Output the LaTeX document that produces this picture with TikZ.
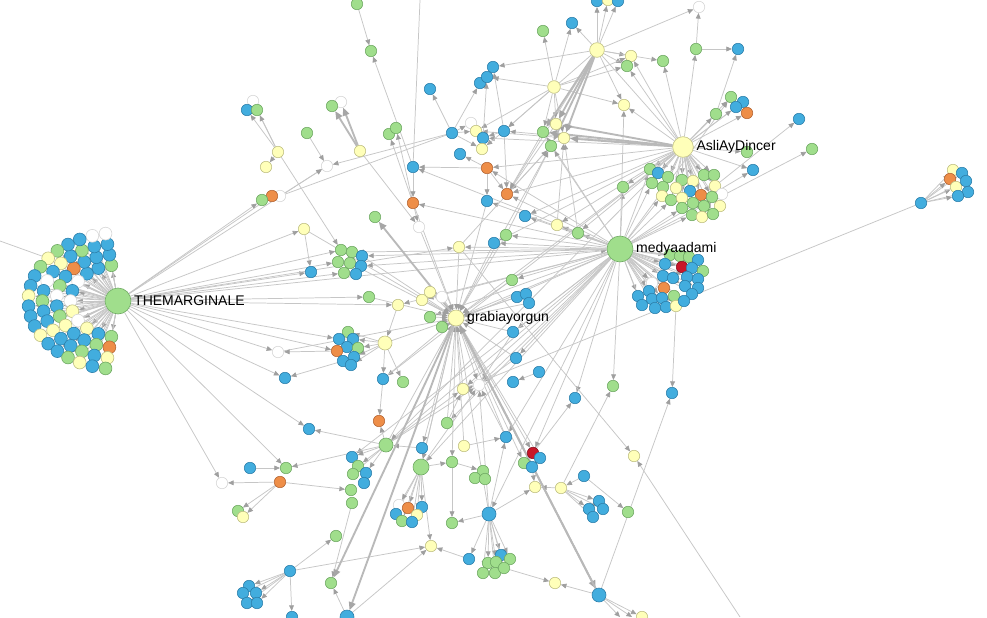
\documentclass[tikz,border=0pt]{standalone}
\usepackage{fontspec}
\setmainfont{Liberation Sans}
\usetikzlibrary{arrows.meta, positioning, backgrounds}
% node fills (c) and borders (d)
\definecolor{cb}{RGB}{66,173,222}  \definecolor{db}{RGB}{45,128,172}
\definecolor{cg}{RGB}{160,222,140} \definecolor{dg}{RGB}{112,170,100}
\definecolor{cy}{RGB}{255,255,185} \definecolor{dy}{RGB}{192,192,132}
\definecolor{co}{RGB}{238,142,72}  \definecolor{do}{RGB}{182,102,52}
\definecolor{cr}{RGB}{200,22,40}   \definecolor{dr}{RGB}{140,15,30}
\definecolor{cw}{RGB}{255,255,255} \definecolor{dw}{RGB}{215,215,215}

\begin{document}
\begin{tikzpicture}[x=0.75pt, y=-0.75pt,
  nd/.style={circle, inner sep=0pt, minimum size=8.6pt, line width=0.45pt, fill=c#1, draw=d#1},
  hub/.style={nd=#1, minimum size=19.5pt},
  mid/.style={nd=#1, minimum size=10.5pt},
  arr/.style={draw=gray!45, line width=0.55pt, -{Triangle[length=4.2pt, width=3.6pt, color=gray!75]}},
  arrt/.style={draw=gray!55, line width=1.4pt, -{Triangle[length=6pt, width=5pt, color=gray!70]}},
  ln/.style={draw=gray!45, line width=0.55pt},
  lbl/.style={font=\fontsize{10.5}{12}\selectfont, inner sep=1pt}
]
  \useasboundingbox (0,0) rectangle (987,617);

  % --- THEMARGINALE ring ---
  \foreach \cols [count=\ring from 0] in {{g,b,b,w,b,w,y,w,y,b,g},{b,b,b,o,b,g,w,b,g,y,b,b,g,o},{b,b,g,b,y,b,w,b,g,b,b,y,b,b,g,b,y},{w,w,b,b,g,y,g,b,b,y,b,b,b,y,b,b,g,y,b,g}}
    \foreach \cl [count=\idx] in \cols {
      \pgfmathsetmacro\ang{98+(\idx-1)*164/(10+3*\ring)}
      \pgfmathsetmacro\rad{44+13*\ring}
      \node[nd=\cl, minimum size=9.6pt] (tm\ring-\idx) at ({118+1.08*\rad*cos(\ang)}, {301-0.82*\rad*sin(\ang)}) {};
    }

  % --- medyaadami cluster ---
  \foreach \nm/\x/\y/\cl in {m1/670/255/g, m2/680/256/g, m3/689/257/g, m4/698/260/b, m5/665/264/b,
      m6/682/267/r, m7/692/268/b, m8/703/271/g, m9/663/276/b, m10/673/278/b, m11/687/277/b,
      m12/698/279/b, m27/652/283/w, m13/664/288/o, m14/685/286/b, m15/698/288/b, m16/649/291/b,
      m17/638/296/b, m18/652/299/b, m19/662/298/b, m20/674/296/g, m21/692/294/b, m22/642/305/b,
      m23/655/308/b, m24/666/307/b, m25/676/306/y, m26/684/301/b}
    \node[nd=\cl] (\nm) at (\x,\y) {};

  % --- AsliAyDincer cluster ---
  \foreach \nm/\x/\y/\cl in {a1/650/169/g, a2/658/173/b, a3/668/177/g, a4/652/183/g, a5/663/187/g,
      a6/682/180/g, a7/693/181/y, a8/704/175/g, a9/714/175/g, a10/662/196/y, a11/676/188/y,
      a12/690/191/b, a13/701/195/o, a14/715/186/y, a15/722/194/w, a16/671/200/g, a17/682/198/y,
      a18/693/203/g, a19/704/206/g, a20/712/197/g, a21/720/206/y, a22/682/208/g, a23/692/215/g,
      a24/702/217/y, a25/713/214/g}
    \node[nd=\cl] (\nm) at (\x,\y) {};

  % --- top ---
  \foreach \nm/\x/\y/\cl in {t1/357/4/g, t2/371/51/g, t3/430/89/b, t4/480/83/b, t5/487/77/b,
      t6/493/67/b, t7/543/31/g, t8/572/23/b, t9/597/1/b, t10/608/0/y, t11/618/1/b, t12/631/56/y,
      t13/627/66/g, t14/663/61/g, t15/696/49/g, t16/738/49/b, t17/699/7/w, t18/624/105/y,
      t19/731/97/g, t20/743/102/b, t21/736/107/b, t22/747/113/o, t23/716/114/g, t24/799/119/b,
      t25/341/102/w, t26/332/106/g, t27/253/101/w, t28/247/110/b, t29/257/110/g}
    \node[nd=\cl] (\nm) at (\x,\y) {};

  % --- upper middle ---
  \foreach \nm/\x/\y/\cl in {u1/307/133/g, u2/389/134/g, u3/396/128/g, u4/360/151/y, u5/278/152/y,
      u6/266/167/y, u7/327/166/w, u8/413/167/b, u9/452/133/b, u11/471/123/w, u10/476/131/y,
      u12/483/138/b, u13/482/149/y, u14/460/154/b, u15/487/168/o, u16/504/131/b, u17/543/132/g,
      u18/556/124/y, u19/564/138/y, u20/551/146/g, u21/507/194/o, u22/487/201/b, u23/413/203/o,
      u24/525/216/b, u25/557/225/y, u26/578/233/g, u27/506/235/g, u28/419/227/w, u29/375/217/g,
      u30/304/229/y, u32/280/196/w, u31/272/196/o, u33/262/200/g, u34/623/187/g, u35/747/152/g,
      u36/753/170/b, u37/812/149/g}
    \node[nd=\cl] (\nm) at (\x,\y) {};

  % --- middle ---
  \foreach \nm/\x/\y/\cl in {c1/459/247/y, c2/494/243/b, c3/512/280/g, c4/517/297/b, c5/526/294/b,
      c6/529/303/b, c7/513/332/b, c8/516/358/b, c9/311/272/b, c10/341/250/g, c11/352/252/g,
      c12/362/256/b, c13/338/262/g, c14/350/263/g, c15/361/266/b, c16/344/273/g, c17/356/274/b,
      c18/369/297/g, c19/398/305/y, c20/422/300/y, c21/430/292/y, c22/442/297/w, c23/430/317/g,
      c24/442/327/g, c25/348/332/g, c26/339/339/b, c27/353/339/b, c28/347/347/b, c29/358/348/g,
      c30/337/351/o, c31/343/361/b, c32/354/357/b, c33/351/365/b, c34/278/352/w, c35/285/378/b,
      c36/383/379/b, c37/403/382/g, c38/463/389/y, c39/479/385/w, c40/513/382/b, c41/539/372/b,
      c42/575/398/b, c43/613/386/g, c44/672/393/b}
    \node[nd=\cl] (\nm) at (\x,\y) {};

  % --- lower ---
  \foreach \nm/\x/\y/\cl in {s1/379/421/o, s2/309/429/b, s3/422/448/b, s4/447/423/g, s5/464/446/y,
      s6/506/437/b, s7/533/453/r, s8/540/458/b, s9/524/463/g, s10/532/467/b, s11/452/462/g,
      s12/483/471/g, s13/475/478/g, s14/485/479/g, s15/535/487/y, s16/561/488/y, s17/584/476/b,
      s18/599/501/b, s19/603/509/b, s20/589/509/b, s21/593/517/b, s22/634/456/y, s23/628/512/g,
      s24/452/523/g, s25/352/457/b, s26/358/466/g, s27/366/473/b, s28/353/474/g, s29/364/483/b,
      s30/351/490/g, s31/352/503/g, s32/250/468/b, s33/286/468/g, s34/280/482/o, s35/222/483/w,
      s36/238/511/g, s37/243/517/y, s44/399/505/w, s38/408/508/o, s39/422/507/b, s40/417/515/y,
      s41/396/514/b, s42/402/521/g, s43/412/522/b, s45/431/546/y, s46/469/559/b, s47/501/555/b,
      s48/510/559/g, s49/488/563/g, s50/496/562/g, s51/483/573/g, s52/495/573/g, s53/504/568/g,
      s54/336/536/g, s55/290/571/b, s56/249/586/b, s57/243/593/b, s58/256/593/b, s59/247/603/b,
      s60/257/603/b, s61/331/583/g, s62/292/617/b, s63/555/583/y, s64/642/617/y}
    \node[nd=\cl] (\nm) at (\x,\y) {};

  % --- far right ---
  \foreach \nm/\x/\y/\cl in {r1/921/203/b, r2/953/170/y, r3/962/173/b, r4/950/179/o, r5/956/187/y,
      r6/966/181/b, r7/968/192/b, r8/958/196/b}
    \node[nd=\cl] (\nm) at (\x,\y) {};

  % --- hubs ---
  \node[hub=g] (TM) at (118,301) {};
  \node[hub=g] (MD) at (620,249) {};
  \node[hub=y, minimum size=15.5pt] (AA) at (683,147) {};
  \node[mid=y, minimum size=12pt] (GR) at (456,318) {};
  \node[mid=g] (hA) at (386,445) {};
  \node[mid=g, minimum size=12pt] (hB) at (421,467) {};
  \node[mid=y] (hY) at (385,343) {};
  \node[mid=y, minimum size=11pt] (hT) at (597,50) {};
  \node[mid=y, minimum size=9.5pt] (hU) at (554,87) {};
  \node[mid=b] (hC) at (489,514) {};
  \node[mid=b] (hD) at (599,595) {};
  \node[mid=b] (hE) at (347,617) {};

  \node[lbl, right=1pt of TM] (tmlbl) {THEMARGINALE};
  \node[lbl, right=1pt of MD] (mdlbl) {medyaadami};
  \node[lbl, right=1pt of AA] (aalbl) {AsliAyDincer};
  \node[lbl, right=1pt of GR] (grlbl) {grabiayorgun};

  % free ends
  \coordinate (leftedge) at (0,241);
  \coordinate (topedge) at (420,0);
  \coordinate (botedge) at (740,617);
  \coordinate (botD1) at (620,617);
  \coordinate (botD2) at (632,617);

  \begin{pgfonlayer}{background}
    \fill[white] (0,0) rectangle (987,617);
    % hub fans
    \foreach \ring in {0,...,3} {
      \pgfmathtruncatemacro\cnt{11+3*\ring}
      \foreach \idx in {1,...,\cnt} \draw[arr] (TM) -- (tm\ring-\idx);
    }
    \foreach \idx in {1,...,27} \draw[arr] (MD) -- (m\idx);
    \foreach \idx in {1,...,25} \draw[arr] (AA) -- (a\idx);
    \foreach \idx in {2,...,8} \draw[arr] (r1) -- (r\idx);

    % thin arrows
    \foreach \src/\dst in {TM/u31, TM/u33, TM/u30, TM/u7, TM/c9, TM/c10, TM/c13, TM/c16, TM/c1,
        TM/MD, TM/c34, TM/c35, TM/c18, TM/c19, TM/s2, TM/s33, TM/s35, TM/c26, TM/c30,
        MD/a1, MD/a4, MD/a10, MD/a16, MD/a22, MD/a23, MD/u34, MD/u36, MD/u37, MD/GR, MD/c1,
        MD/c2, MD/c3, MD/u24, MD/u25, MD/u26, MD/u27, MD/u21, MD/u22, MD/u15, MD/u17, MD/u20,
        MD/c19, MD/c20, MD/c23, MD/c24, MD/c11, MD/c12, MD/c15, MD/c38, MD/c39, MD/c42, MD/c43,
        MD/s6, MD/s7, MD/s4, MD/hC, MD/c7, MD/c8, MD/t18, MD/hA, MD/s25, MD/hB, MD/t19, MD/u8,
        MD/u23,
        AA/t12, AA/t13, AA/t14, AA/t15, AA/t18, AA/t19, AA/t20, AA/t21, AA/t22, AA/t23, AA/u35,
        AA/u36, AA/u16, AA/u12, AA/u10, AA/u15, AA/u21, AA/GR, AA/u34, AA/c2, AA/u25, AA/hA,
        AA/c36, AA/u26, AA/u24, a14/t24, t15/t17, t15/t16, t23/t16,
        hT/t9, hT/t10, hT/t11, hT/t8, hT/t12, hT/t13, hT/t14, hT/t17, hT/t18, hT/t6, hT/u21,
        hT/u16, hU/t7, hU/t8, hU/t5, hU/t12, hU/t13, hU/t18, hU/u18, hU/u17, hU/u19, hU/u10,
        hU/u16,
        t1/t2, u8/t2, u9/t3, u9/t4, u12/t5, u16/t6, u5/t27, u5/t28, u5/t29, u5/u6, u1/u7, u9/u7,
        u32/u7, u23/u2, u23/u3, u15/u8, u8/u23, u23/u28, u4/u28, u5/c10, u9/u11, u9/u13,
        u16/u12, u16/u13, u16/u21, u15/u22, u15/u21, u15/u14, u17/u21, u20/u21, u18/u21, u9/u10,
        GR/u20, u27/u20, u25/u19, c1/u20, u26/u19, u30/c9,
        c20/GR, c21/GR, c22/GR, c23/GR, c24/GR, c18/GR, c19/hY, c1/GR, c2/GR, c3/GR, c7/GR,
        c8/GR, c38/GR, s4/GR, s5/GR, s6/GR, hA/GR, hB/GR, hC/GR, hY/GR, c36/GR, u22/GR,
        u27/GR, u23/GR, u28/GR, c12/GR, c4/GR, c5/GR, c6/GR, u30/GR, c14/GR, c34/GR,
        hY/c25, hY/c27, hY/c29, hY/c32, hY/c33, hY/c36, hY/c37, c30/c34, c31/c35,
        GR/c39, c38/c39, hB/c39, hC/c39, s6/c39, c7/c39, hA/c39, c8/c39, s4/c38, hA/c38,
        c41/c40, s7/c42, s16/c43, m25/c44, hD/c44, c1/s22, s17/s23, botedge/s22,
        c36/s1, hA/s1, hA/s2, s3/hA, hA/s25, hA/s26, hA/s27, hA/s28, hA/s33,
        hB/s38, hB/s39, hB/s40, hB/s41, hB/s42, hB/s43, hB/s44, hB/s11, hB/s45,
        s32/s33, s34/s35, s34/s36, s34/s37, s34/s30,
        s55/s56, s55/s57, s55/s58, s55/s59, s55/s60, s55/s62, s55/s45, s55/s54, s31/s61,
        hE/s45, hE/s61, s46/s45, hC/s46, hC/s47, hC/s48, hC/s49, hC/s50, hC/s51, hC/s52, hC/s53,
        hC/s24, hC/s15, hC/s6, GR/s7, GR/s8, GR/s9, s10/s15, s16/s15, s17/s16, s16/s18,
        s16/s19, s16/s20, s16/s21, hD/s63, hD/s64, hD/botD1, hD/botD2, s53/s63, s11/s12,
        s11/s24, s5/s6, GR/s3, GR/s11, GR/hB}
      \draw[arr] (\src) -- (\dst);

    % heavy arrows
    \foreach \src/\dst in {AA/u17, AA/u18, AA/u19, hT/u17, hT/u18, hT/u19, hT/u20, GR/hE, GR/hD,
        hD/GR, GR/u29, u4/t25, u4/t26, GR/s61}
      \draw[arrt] (\src) -- (\dst);

    % plain lines
    \foreach \src/\dst in {AA/hT, c38/r1, leftedge/tm3-6, topedge/u8, u9/u32}
      \draw[ln] (\src) -- (\dst);
  \end{pgfonlayer}
\end{tikzpicture}
\end{document}
